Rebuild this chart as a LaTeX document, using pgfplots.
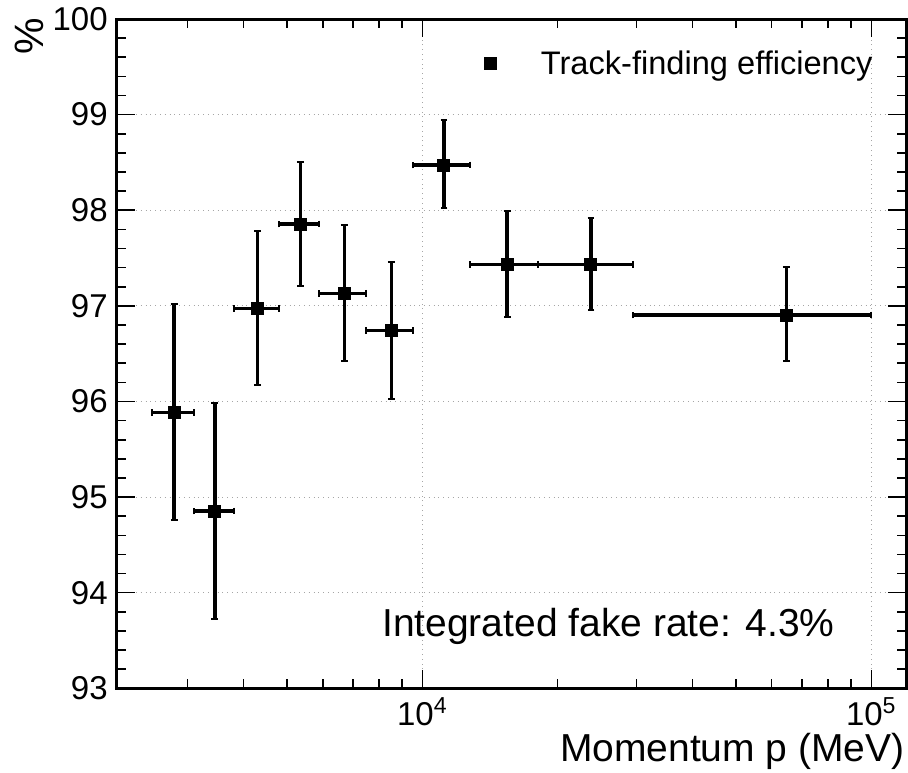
\documentclass[border=0pt]{standalone}
\usepackage{pgfplots}
\pgfplotsset{compat=1.18}
\usepackage{pgfplotstable}
\usepackage{fontspec}
\setmainfont{Liberation Sans}

\pgfplotstableread{
x      y       xerr   yplus  yminus
2800   95.882  300    1.134  1.125
3450   94.854  350    1.127  1.130
4300   96.974  500    0.809  0.799
5350   97.856  550    0.645  0.649
6700   97.131  800    0.711  0.708
8525   96.740  1025   0.722  0.718
11175  98.473  1625   0.467  0.453
15450  97.434  2650   0.558  0.548
23750  97.434  5650   0.482  0.478
64700  96.904  35300  0.505  0.481
}\effdata

\begin{document}
\begin{tikzpicture}
\begin{axis}[
  scale only axis,
  width=394.65pt, height=334.65pt,
  xmode=log,
  xmin=2086, xmax=119500,
  ymin=93, ymax=100,
  ytick={93,94,...,100},
  yticklabels={93,94,95,96,97,98,99,100},
  minor y tick num=4,
  xtick={10000,100000},
  xticklabels={10\textsuperscript{4},10\textsuperscript{5}},
  minor xtick={3000,4000,5000,6000,7000,8000,9000,20000,30000,40000,50000,60000,70000,80000,90000},
  tick align=inside,
  major tick length=9pt,
  minor tick length=4.5pt,
  axis line style={line width=1.5pt},
  every tick/.style={black, line width=0.8pt},
  grid=major,
  major grid style={dotted, black!35, line width=0.5pt},
  every tick label/.append style={font=\fontsize{16.5}{19.5}\selectfont},
  yticklabel style={xshift=-1pt},
  xticklabel style={yshift=-1pt},
  xlabel={Momentum p (MeV)},
  xlabel style={at={(rel axis cs:0.9988,-0.110)}, anchor=base east, inner sep=0pt, font=\fontsize{19.5}{22}\selectfont},
  ylabel={\%},
  ylabel style={at={(rel axis cs:-0.111,0.9746)}, anchor=center, inner sep=0pt, font=\fontsize{20.5}{23}\selectfont},
  legend style={draw=none, fill=none, at={(rel axis cs:0.958,0.933)}, anchor=east, inner sep=0pt,
    nodes={inner sep=0pt}, column sep=0pt, font=\fontsize{16.3}{19}\selectfont},
  legend image code/.code={\draw[#1] plot coordinates {(0pt,0pt)}; \path[draw=none, fill=none] (-3pt,0pt) -- (25pt,0pt);},
  legend cell align=left,
  clip=false,
]
\addplot+[only marks, black, line width=1.7pt, mark=square*, mark size=3pt, mark options={black, fill=black, line width=0.5pt},
  error bars/.cd,
    x dir=both, x explicit,
    y dir=both, y explicit,
    error bar style={line width=1.7pt, black},
    error mark options={rotate=90, mark size=1.7pt, line width=1pt, black}]
  table[x=x, y=y, x error=xerr, y error plus=yplus, y error minus=yminus]{\effdata};
\addlegendentry{Track-finding efficiency}
\node[anchor=base east, inner sep=0pt, font=\fontsize{19.5}{22}\selectfont] at (rel axis cs:0.910,0.0771) {Integrated fake rate: 4.3\%};
\end{axis}
\pgfresetboundingbox
\path[use as bounding box] ([shift={(-58.35pt,-41.85pt)}]current axis.south west) rectangle ++(454pt,386pt);
\end{tikzpicture}
\end{document}
